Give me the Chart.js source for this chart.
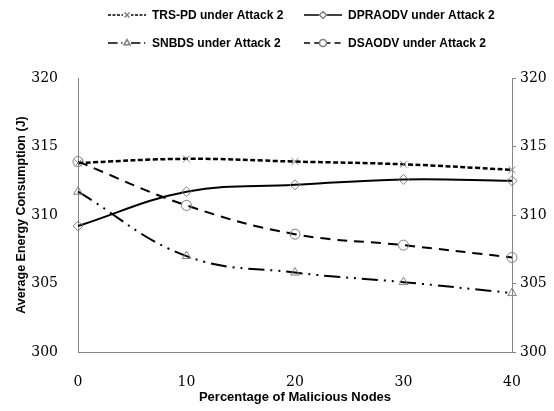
<!DOCTYPE html>
<html>
<head>
<meta charset="utf-8">
<script src="https://cdn.jsdelivr.net/npm/chart.js@4"></script>
<style>
	html, body { margin: 0; padding: 0; background: #fff; }
	#lineChart { display: block; }
</style>
</head>
<body>
<canvas id="lineChart" width="554" height="411"></canvas>
<script>
// chart data
const xLabels = ["0", "10", "20", "30", "40"];
const seriesNames = [
	"TRS-PD under Attack 2",
	"DPRAODV under Attack 2",
	"SNBDS under Attack 2",
	"DSAODV under Attack 2",
];
const trsPd = [313.8, 314.1, 313.9, 313.7, 313.3];
const dpraodv = [309.2, 311.7, 312.2, 312.6, 312.5];
const snbds = [311.7, 307.0, 305.8, 305.1, 304.3];
const dsaodv = [313.9, 310.7, 308.6, 307.8, 306.9];

const yTicks = { min: 300, max: 320, step: 5 };

const axisGray = "#868686";
const markGray = "#7f7f7f";
const titleFont = "'Liberation Sans Narrow', 'Arial Narrow', Arial, sans-serif";
const tickFont = "'DejaVu Serif', 'Liberation Serif', serif";

function makeSet(label, data, dash, width, marker) {
	return {
		label: label,
		data: data,
		borderColor: "#000",
		borderWidth: width,
		borderDash: dash,
		fill: false,
		tension: 0.4,
		pointStyle: marker,
		pointRadius: 5,
		pointBorderColor: markGray,
		pointBackgroundColor: "rgba(0,0,0,0)",
		pointBorderWidth: 1,
		yAxisID: "y",
	};
}

/*######################################*
||   Two-column legend with samples    ||
*######################################*/

const legendGrid = {
	id: "legendGrid",
	afterDraw(chart) {
		const ctx = chart.ctx;
		const cols = [108, 304];
		const rows = [15, 43];
		chart.data.datasets.forEach((ds, i) => {
			const x = cols[i % 2];
			const y = rows[Math.floor(i / 2)];
			ctx.save();
			ctx.strokeStyle = "#000";
			ctx.lineWidth = 1.5;
			ctx.setLineDash(ds.borderDash.length ? ds.borderDash.map((d) => d * 0.6) : []);
			ctx.beginPath();
			ctx.moveTo(x, y);
			ctx.lineTo(x + 38, y);
			ctx.stroke();
			ctx.setLineDash([]);
			ctx.fillStyle = "#fff";
			ctx.fillRect(x + 15, y - 4, 8, 8);
			ctx.strokeStyle = markGray;
			ctx.fillStyle = "rgba(0,0,0,0)";
			Chart.helpers.drawPoint(ctx, { pointStyle: ds.pointStyle, radius: 3.5, rotation: 0, borderWidth: 1 }, x + 19, y);
			ctx.fillStyle = "#000";
			ctx.font = "bold 12px " + titleFont;
			ctx.textBaseline = "middle";
			ctx.fillText(ds.label, x + 44, y + 1);
			ctx.restore();
		});
	},
};

new Chart("lineChart", {
	type: "line",
	data: {
		labels: xLabels,
		datasets: [
			makeSet(seriesNames[0], trsPd, [5, 2.5], 2.5, "crossRot"),
			makeSet(seriesNames[1], dpraodv, [], 2, "rectRot"),
			makeSet(seriesNames[2], snbds, [16, 6, 2, 6, 2, 6], 2, "triangle"),
			makeSet(seriesNames[3], dsaodv, [10, 7], 2, "circle"),
		],
	},
	options: {
		responsive: false,
		animation: false,
		layout: { padding: { top: 78, left: 0, right: 0, bottom: 0 } },
		plugins: {
			legend: { display: false },
			tooltip: { enabled: false },
		},
		scales: {
			x: {
				offset: false,
				grid: { display: false },
				border: { color: axisGray, width: 1 },
				ticks: {
					color: "#000",
					padding: 14,
					maxRotation: 0,
					font: { family: tickFont, size: 14 },
				},
				title: {
					display: true,
					text: "Percentage of Malicious Nodes",
					color: "#000",
					padding: { top: 4, bottom: 6 },
					font: { family: titleFont, size: 13, weight: "bold" },
				},
				afterFit: (scale) => { scale.height = 59; },
			},
			y: {
				position: "left",
				min: yTicks.min,
				max: yTicks.max,
				grid: { display: false },
				border: { color: axisGray, width: 1 },
				ticks: {
					stepSize: yTicks.step,
					color: "#000",
					padding: 12,
					font: { family: tickFont, size: 14 },
				},
				title: {
					display: true,
					text: "Average Energy Consumption (J)",
					color: "#000",
					padding: { top: 14, bottom: 4 },
					font: { family: titleFont, size: 12.5, weight: "bold" },
				},
				afterFit: (scale) => { scale.width = 78; },
			},
			y2: {
				position: "right",
				min: yTicks.min,
				max: yTicks.max,
				grid: {
					display: true,
					drawOnChartArea: false,
					drawTicks: true,
					tickLength: 4,
					color: axisGray,
				},
				border: { color: axisGray, width: 1 },
				ticks: {
					stepSize: yTicks.step,
					color: "#000",
					padding: 4,
					font: { family: tickFont, size: 14 },
				},
				afterFit: (scale) => { scale.width = 42; },
			},
		},
	},
	plugins: [legendGrid],
});
</script>
</body>
</html>
